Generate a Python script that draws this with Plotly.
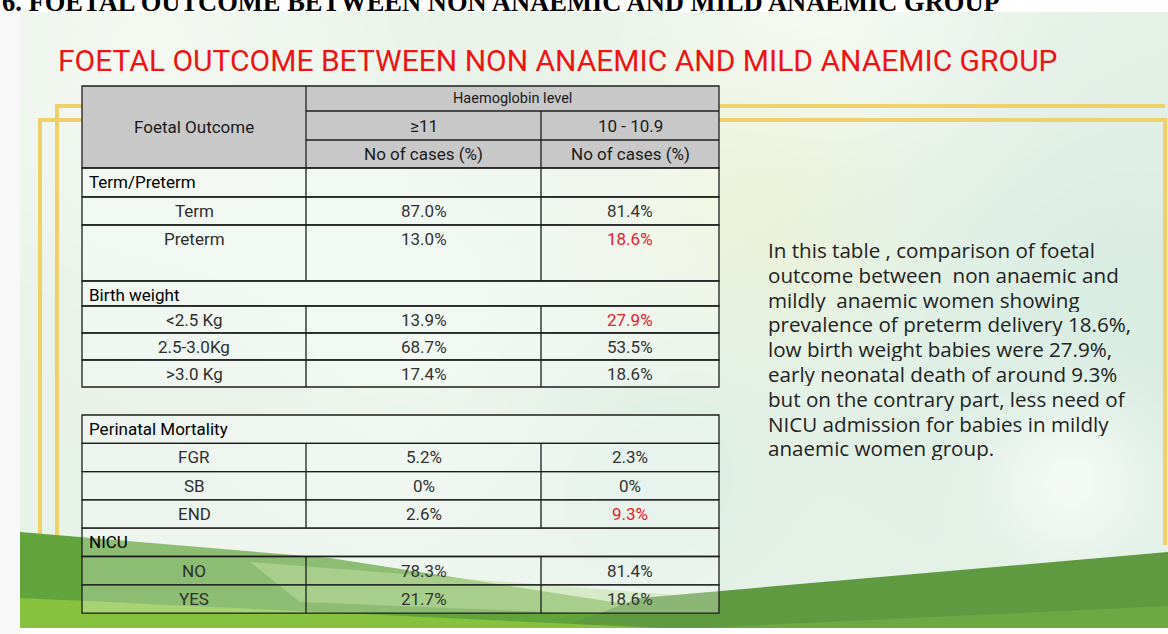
import base64
import struct
import zlib

import numpy as np
import plotly.graph_objects as go

# ---------------- data ----------------
doc_heading = "6. FOETAL OUTCOME BETWEEN NON ANAEMIC AND MILD ANAEMIC GROUP"
slide_title = "FOETAL OUTCOME BETWEEN NON ANAEMIC AND MILD ANAEMIC GROUP"
first_col_header = "Foetal Outcome"
group_header = "Haemoglobin level"
hb_levels = ["≥11", "10 - 10.9"]
sub_header = "No of cases (%)"

term_section = "Term/Preterm"
term_labels = ["Term", "Preterm"]
term_hb11 = ["87.0%", "13.0%"]
term_hb10 = ["81.4%", "18.6%"]

bw_section = "Birth weight"
bw_labels = ["<2.5 Kg", "2.5-3.0Kg", ">3.0 Kg"]
bw_hb11 = ["13.9%", "68.7%", "17.4%"]
bw_hb10 = ["27.9%", "53.5%", "18.6%"]

pm_section = "Perinatal Mortality"
pm_labels = ["FGR", "SB", "END"]
pm_hb11 = ["5.2%", "0%", "2.6%"]
pm_hb10 = ["2.3%", "0%", "9.3%"]

nicu_section = "NICU"
nicu_labels = ["NO", "YES"]
nicu_hb11 = ["78.3%", "21.7%"]
nicu_hb10 = ["81.4%", "18.6%"]

highlighted = [("Preterm", "10 - 10.9"), ("<2.5 Kg", "10 - 10.9"), ("END", "10 - 10.9")]

summary_lines = [
    "In this table , comparison of foetal",
    "outcome between  non anaemic and",
    "mildly  anaemic women showing",
    "prevalence of preterm delivery 18.6%,",
    "low birth weight babies were 27.9%,",
    "early neonatal death of around 9.3%",
    "but on the contrary part, less need of",
    "NICU admission for babies in mildly",
    "anaemic women group.",
]

# ---------------- helpers ----------------
W, H = 1168, 634
shapes = []
annotations = []


def rect(x0, y0, x1, y1, fill, line=None, lw=0, opacity=1):
    shapes.append(dict(type="rect", xref="x", yref="y", x0=x0, y0=y0, x1=x1, y1=y1,
                       fillcolor=fill, line=dict(color=line or "rgba(0,0,0,0)", width=lw),
                       layer="above", opacity=opacity))


def seg(x0, y0, x1, y1, color, lw):
    shapes.append(dict(type="line", xref="x", yref="y", x0=x0, y0=y0, x1=x1, y1=y1,
                       line=dict(color=color, width=lw), layer="above"))


def poly(pts, fill, opacity=1):
    path = "M " + " L ".join(f"{x},{y}" for x, y in pts) + " Z"
    shapes.append(dict(type="path", xref="x", yref="y", path=path, fillcolor=fill,
                       line=dict(width=0), layer="above", opacity=opacity))


def text(x, y, s, size, color="#2a2a2a", xanchor="center", family="Roboto",
         yanchor="middle", weight="normal", height=None):
    a = dict(x=x, y=y, xref="x", yref="y", text=s, showarrow=False,
             xanchor=xanchor, yanchor=yanchor,
             font=dict(family=family, size=size, color=color, weight=weight))
    if height:
        a["height"] = height
    annotations.append(a)


def png_uri(arr):
    h, w, _ = arr.shape
    raw = b"".join(b"\x00" + arr[r].tobytes() for r in range(h))

    def chunk(tag, data):
        c = struct.pack(">I", len(data)) + tag + data
        return c + struct.pack(">I", zlib.crc32(tag + data) & 0xFFFFFFFF)

    png = (b"\x89PNG\r\n\x1a\n"
           + chunk(b"IHDR", struct.pack(">IIBBBBB", w, h, 8, 2, 0, 0, 0))
           + chunk(b"IDAT", zlib.compress(raw, 9))
           + chunk(b"IEND", b""))
    return "data:image/png;base64," + base64.b64encode(png).decode()


# ---------------- soft slide background (generated) ----------------
bx0, by0, bx1, by1 = 20, 12, W, 628
sw, sh = (bx1 - bx0) // 2, (by1 - by0) // 2
yy, xx = np.mgrid[0:sh, 0:sw].astype(float)
xx = xx * 2 + bx0
yy = yy * 2 + by0
img = np.zeros((sh, sw, 3)) + np.array([231, 242, 232], float)
blobs = [
    ((250, 252, 247), 150, 50, 170, 0.65),
    ((251, 253, 250), 820, 30, 130, 0.75),
    ((238, 243, 206), 760, 210, 95, 0.65),
    ((212, 235, 225), 1120, 330, 170, 0.7),
    ((214, 236, 226), 640, 470, 90, 0.6),
    ((246, 250, 245), 420, 330, 140, 0.45),
    ((249, 252, 248), 1070, 480, 55, 0.85),
]
for col, cxb, cyb, sig, amp in blobs:
    a = amp * np.exp(-((xx - cxb) ** 2 + (yy - cyb) ** 2) / (2 * sig ** 2))
    img = img * (1 - a[..., None]) + np.array(col, float) * a[..., None]
bg_uri = png_uri(np.clip(img, 0, 255).astype(np.uint8))

rect(0, 0, 20, H, "#f8f8f8")

# gold frame
gold = "#efd06a"
seg(57, 106, 1165, 106, gold, 4)
seg(40, 120, 1165, 120, gold, 4)
seg(57, 104, 57, 560, gold, 4)
seg(40, 118, 40, 560, gold, 4)
seg(1165, 118, 1165, 545, gold, 4)

# green bottom waves
poly([(20, 532), (330, 558), (780, 628), (20, 628)], "#62a43c")
poly([(250, 562), (740, 600), (1168, 560), (1168, 600), (740, 620), (300, 602)], "#a9d37f", 0.5)
poly([(560, 628), (640, 598), (1168, 552), (1168, 628)], "#5f9a40")
poly([(20, 598), (20, 628), (660, 628)], "#86c23e")
poly([(700, 628), (1168, 606), (1168, 628)], "#6ca942")

# ---------------- headings ----------------
text(0, 2, doc_heading, 26.5, "#000000", "left", "Liberation Serif", "middle", "bold")
text(56, 60, slide_title, 30, "#ee1414", "left", "Roboto")

# ---------------- table ----------------
cx = [82, 306, 541, 719]
border = "#1e1e1e"
blw = 1.3
cell_fill = "rgba(255,255,255,0.28)"
fs = 17


def col_center(i):
    return (cx[i] + cx[i + 1]) / 2


hdr_rows = [86, 111, 140, 168]
rect(cx[0], hdr_rows[0], cx[3], hdr_rows[3], "#c8c8c8", border, blw)
seg(cx[1], hdr_rows[0], cx[1], hdr_rows[3], border, blw)
seg(cx[2], hdr_rows[1], cx[2], hdr_rows[3], border, blw)
seg(cx[1], hdr_rows[1], cx[3], hdr_rows[1], border, blw)
seg(cx[1], hdr_rows[2], cx[3], hdr_rows[2], border, blw)
text(col_center(0), (hdr_rows[0] + hdr_rows[3]) / 2, first_col_header, fs, "#1a1a1a")
text((cx[1] + cx[3]) / 2, (hdr_rows[0] + hdr_rows[1]) / 2, group_header, 14.5, "#1a1a1a")
for i, lv in enumerate(hb_levels):
    text(col_center(i + 1), (hdr_rows[1] + hdr_rows[2]) / 2, lv, fs, "#1a1a1a")
    text(col_center(i + 1), (hdr_rows[2] + hdr_rows[3]) / 2, sub_header, fs, "#1a1a1a")


def draw_rows(rows, y):
    for kind, label, v11, v10, h in rows:
        rect(cx[0], y, cx[3], y + h, cell_fill, border, blw)
        if kind == "section":
            text(cx[0] + 5, y + 14, label, fs, "#000000", "left")
            if v11 is not None:
                seg(cx[1], y, cx[1], y + h, border, blw)
                seg(cx[2], y, cx[2], y + h, border, blw)
        else:
            seg(cx[1], y, cx[1], y + h, border, blw)
            seg(cx[2], y, cx[2], y + h, border, blw)
            text(col_center(0), y + 14, label, fs, "#2e2e2e")
            for i, (v, lv) in enumerate(zip((v11, v10), hb_levels)):
                red = (label, lv) in highlighted
                text(col_center(i + 1), y + 14, v, fs, "#e8202a" if red else "#333333")
        y += h
    return y


upper = [("section", term_section, "", "", 29)]
for k, (lab, a, b) in enumerate(zip(term_labels, term_hb11, term_hb10)):
    upper.append(("row", lab, a, b, 56 if k == len(term_labels) - 1 else 28))
upper.append(("section", bw_section, None, None, 25))
for lab, a, b in zip(bw_labels, bw_hb11, bw_hb10):
    upper.append(("row", lab, a, b, 27))
draw_rows(upper, hdr_rows[3])

lower = [("section", pm_section, None, None, 28.3)]
for lab, a, b in zip(pm_labels, pm_hb11, pm_hb10):
    lower.append(("row", lab, a, b, 28.3))
lower.append(("section", nicu_section, None, None, 28.3))
for lab, a, b in zip(nicu_labels, nicu_hb11, nicu_hb10):
    lower.append(("row", lab, a, b, 28.3))
draw_rows(lower, 415)

# ---------------- summary text ----------------
for k, line in enumerate(summary_lines):
    text(766, 250 + k * 24.8, line, 20.6, "#222222", "left", "Open Sans", height=24)

fig = go.Figure()
fig.update_layout(
    width=W, height=H, margin=dict(l=0, r=0, t=0, b=0),
    paper_bgcolor="#ffffff", plot_bgcolor="rgba(0,0,0,0)",
    xaxis=dict(range=[0, W], visible=False, fixedrange=True),
    yaxis=dict(range=[H, 0], visible=False, fixedrange=True),
    shapes=shapes, annotations=annotations, showlegend=False,
    images=[dict(source=bg_uri, xref="x", yref="y", x=bx0, y=by0,
                 sizex=bx1 - bx0, sizey=by1 - by0, sizing="stretch",
                 xanchor="left", yanchor="top", layer="below")],
)
fig.write_html("out.html", config={"displayModeBar": False},
               post_script="document.body.style.margin='0px';")
